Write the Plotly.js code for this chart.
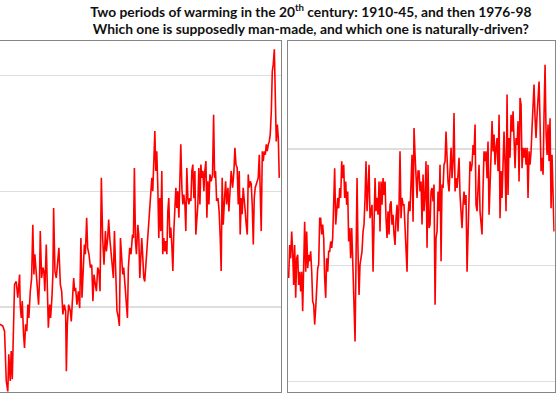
<!DOCTYPE html>
<html>
<head>
<meta charset="utf-8">
<script src="https://cdn.plot.ly/plotly-3.0.1.min.js"></script>
<style>html,body{margin:0;padding:0;background:#fff;}#chart{width:558px;height:393px;}</style>
</head>
<body>
<div id="chart"></div>
<script>
// Monthly temperature anomaly (°C), period 1976-98 (left panel)
const leftYears = [
1976.00,1976.23,1976.38,1976.46,1976.52,1976.65,1976.73,1976.85,1976.93,1977.02,1977.13,1977.21,1977.35,1977.48,1977.63,1977.68,1977.77,1977.85,1977.96,1978.04,
1978.13,1978.23,1978.32,1978.40,1978.52,1978.63,1978.73,1978.82,1978.90,1979.02,1979.10,1979.21,1979.29,1979.35,1979.46,1979.57,1979.65,1979.73,1979.85,1979.93,
1980.02,1980.13,1980.21,1980.32,1980.40,1980.46,1980.57,1980.68,1980.79,1980.90,1981.02,1981.13,1981.23,1981.35,1981.46,1981.52,1981.60,1981.71,1981.85,
1981.93,1982.02,1982.13,1982.21,1982.29,1982.40,1982.52,1982.63,1982.73,1982.82,1982.90,1983.02,1983.10,1983.21,1983.29,1983.40,1983.52,1983.63,1983.73,1983.82,
1983.93,1984.02,1984.13,1984.23,1984.32,1984.43,1984.54,1984.65,1984.77,1984.85,1984.96,1985.04,1985.13,1985.23,1985.35,1985.43,1985.52,1985.63,1985.73,1985.85,
1985.93,1986.02,1986.13,1986.21,1986.29,1986.40,1986.52,1986.60,1986.68,1986.79,1986.90,1987.02,1987.10,1987.18,1987.27,1987.35,1987.46,1987.54,1987.63,
1987.79,1987.88,1987.96,1988.04,1988.13,1988.23,1988.32,1988.43,1988.54,1988.63,1988.71,1988.79,1988.88,1988.96,1989.04,1989.13,1989.21,1989.29,1989.38,1989.46,
1989.54,1989.63,1989.71,1989.79,1989.88,1989.96,1990.04,1990.13,1990.21,1990.29,1990.38,1990.46,1990.54,1990.63,1990.71,1990.79,1990.88,1990.96,1991.04,1991.13,
1991.21,1991.29,1991.38,1991.46,1991.54,1991.63,1991.71,1991.79,1991.88,1991.96,1992.04,1992.13,1992.21,1992.29,1992.38,1992.46,1992.54,1992.63,1992.71,1992.79,
1992.88,1992.96,1993.04,1993.13,1993.21,1993.29,1993.38,1993.46,
1993.57,1993.68,1993.77,1993.85,1993.93,1994.02,1994.13,1994.23,1994.32,1994.40,1994.48,1994.57,1994.68,1994.77,1994.85,1994.96,1995.04,1995.15,1995.23,1995.35,
1995.46,1995.54,1995.63,1995.73,1995.82,1995.90,1995.98,1996.07,1996.15,1996.23,1996.32,1996.40,1996.48,1996.57,1996.65,1996.73,1996.82,1996.90,1996.98,1997.07,
1997.15,1997.23,1997.32,1997.40,1997.48,1997.57,1997.65,1997.73,1997.82,1997.90,1997.98,1998.07,1998.15,1998.23,1998.32,1998.40,1998.48,1998.57,1998.65,1998.73,
1998.82,1998.90,1998.98,1999.07,1999.15,1999.23
];
const leftAnom = [
-0.030,-0.033,-0.042,-0.097,-0.128,-0.146,-0.082,-0.128,-0.076,-0.125,-0.053,0.039,0.044,0.016,0.056,0.004,-0.019,0.010,-0.048,-0.071,
-0.030,-0.042,0.004,-0.019,0.027,0.050,0.142,0.056,0.091,0.050,0.027,0.004,0.050,0.131,0.050,0.068,0.062,0.027,0.108,0.016,
-0.036,0.004,-0.019,0.016,0.056,0.171,0.062,0.050,0.079,0.102,0.039,0.027,-0.013,0.004,-0.007,-0.111,-0.030,0.004,-0.007,
-0.025,0.010,0.050,0.027,0.033,0.004,0.027,-0.002,0.119,0.016,0.050,0.108,0.091,0.154,0.102,0.091,0.068,0.073,0.010,0.056,
0.039,0.027,0.068,0.062,0.027,0.223,0.119,0.073,0.131,0.096,0.119,0.151,0.119,0.096,0.068,0.050,0.131,0.050,-0.007,-0.019,
-0.033,0.119,0.091,0.056,0.068,0.039,0.010,-0.019,0.068,0.102,0.091,0.125,0.119,0.240,0.114,0.091,0.142,0.125,0.050,
0.119,0.085,0.050,0.044,0.073,0.108,0.137,0.160,0.200,0.223,0.200,0.252,0.304,0.235,0.269,0.206,0.119,0.188,0.131,0.235,
0.091,0.119,0.096,0.114,0.091,0.165,0.188,0.119,0.137,0.108,0.062,0.131,0.165,0.206,0.171,0.200,0.154,0.246,0.281,0.206,
0.177,0.194,0.177,0.131,0.240,0.188,0.177,0.188,0.183,0.235,0.246,0.188,0.235,0.125,0.148,0.177,0.240,0.177,0.246,0.223,
0.235,0.200,0.235,0.252,0.154,0.217,0.177,0.229,
0.217,0.229,0.332,0.223,0.235,0.183,0.188,0.165,0.119,0.062,0.223,0.142,0.188,0.217,0.177,0.206,0.165,0.217,0.235,0.206,
0.235,0.275,0.246,0.240,0.177,0.235,0.125,0.188,0.160,0.206,0.188,0.165,0.142,0.125,0.229,0.206,0.217,0.212,0.177,0.108,
0.188,0.206,0.212,0.217,0.223,0.263,0.212,0.131,0.269,0.252,0.269,0.263,0.281,0.269,0.281,0.286,0.298,0.338,0.407,0.419,
0.445,0.361,0.286,0.315,0.292,0.223
];

// Monthly temperature anomaly (°C), period 1910-45 (right panel)
const rightYears = [
1910.09,1910.23,1910.36,1910.50,1910.63,1910.77,1910.90,1911.04,1911.17,1911.31,1911.44,1911.58,1911.71,1911.85,1911.98,1912.12,1912.25,1912.39,1912.52,1912.66,
1912.79,1912.93,1913.06,1913.20,1913.33,1913.47,1913.60,1913.74,1913.87,1914.01,1914.14,1914.28,1914.41,1914.55,1914.68,1914.82,1914.95,1915.09,1915.22,1915.36,
1915.49,1915.63,1915.76,1915.90,1916.03,1916.17,1916.30,1916.44,1916.57,1916.71,1916.84,1916.98,1917.11,1917.25,1917.38,1917.52,1917.65,1917.79,1917.92,1918.06,
1918.19,1918.33,1918.46,1918.60,
1918.78,1918.91,1919.05,1919.18,1919.32,1919.45,1919.59,1919.72,1919.86,1919.99,1920.13,1920.26,1920.40,1920.53,1920.67,1920.80,1920.94,1921.07,1921.21,1921.34,
1921.48,1921.61,1921.75,1921.88,1922.02,1922.15,1922.29,1922.42,1922.56,1922.69,1922.83,1922.96,1923.10,1923.23,1923.37,1923.50,1923.64,1923.77,1923.91,1924.04,
1924.18,1924.31,1924.45,1924.58,1924.72,1924.85,1924.99,1925.12,1925.26,1925.39,1925.53,1925.66,1925.80,1925.93,1926.07,1926.20,1926.34,1926.47,1926.61,1926.74,
1926.88,1927.01,1927.15,1927.28,1927.42,1927.55,1927.69,1927.82,
1927.96,1928.09,1928.23,1928.36,1928.50,1928.63,1928.77,1928.90,1929.04,1929.17,1929.31,1929.44,1929.58,1929.71,1929.85,1929.98,1930.12,1930.25,1930.39,1930.52,
1930.66,1930.79,1930.93,1931.06,1931.20,1931.33,1931.47,1931.60,1931.74,1931.87,1932.01,1932.14,1932.28,1932.41,1932.55,1932.68,1932.82,1932.95,1933.09,1933.22,
1933.36,1933.49,1933.63,1933.76,1933.90,1934.03,1934.17,1934.30,1934.44,1934.57,1934.71,1934.84,1934.98,1935.11,1935.25,1935.38,1935.52,1935.65,1935.79,1935.92,
1936.06,1936.19,1936.33,1936.46,1936.60,1936.73,1936.87,1937.00,
1937.14,1937.27,1937.41,1937.54,1937.68,1937.81,1937.95,1938.08,1938.22,1938.35,1938.49,1938.62,1938.76,1938.89,1939.03,1939.16,1939.30,1939.43,1939.57,1939.70,
1939.84,1939.97,1940.11,1940.24,1940.38,1940.51,1940.65,1940.78,1940.92,1941.05,1941.19,1941.32,1941.46,1941.59,1941.73,1941.86,1942.00,1942.13,1942.27,1942.40,
1942.54,1942.67,1942.81,1942.94,1943.08,1943.21,1943.35,1943.48,1943.62,1943.75,1943.89,1944.02,1944.16,1944.29,1944.43,1944.56,1944.70,1944.83,1944.97,1945.10,
1945.24,1945.37,1945.51,1945.64,1945.78,1945.91
];
const rightAnom = [
-0.422,-0.365,-0.388,-0.342,-0.376,-0.434,-0.365,-0.456,-0.388,-0.382,-0.434,-0.411,-0.445,-0.411,-0.479,-0.382,-0.325,-0.411,-0.342,-0.405,
-0.382,-0.393,-0.376,-0.411,-0.462,-0.468,-0.502,-0.474,-0.422,-0.405,-0.399,-0.319,-0.319,-0.347,-0.330,-0.353,-0.422,-0.456,-0.388,-0.411,
-0.376,-0.376,-0.359,-0.370,-0.353,-0.302,-0.233,-0.330,-0.307,-0.284,-0.302,-0.267,-0.284,-0.221,-0.250,-0.227,-0.284,-0.256,-0.296,-0.273,
-0.359,-0.336,-0.388,-0.336,
-0.411,-0.479,-0.531,-0.393,-0.250,-0.376,-0.451,-0.399,-0.388,-0.376,-0.342,-0.330,-0.284,-0.221,-0.307,-0.267,-0.227,-0.319,-0.307,-0.296,
-0.411,-0.296,-0.250,-0.307,-0.284,-0.313,-0.256,-0.342,-0.256,-0.296,-0.250,-0.279,-0.256,-0.319,-0.353,-0.307,-0.347,-0.296,-0.290,-0.330,
-0.313,-0.347,-0.365,-0.319,-0.296,-0.342,-0.296,-0.204,-0.319,-0.284,-0.296,-0.296,-0.330,-0.365,-0.411,-0.313,-0.290,-0.307,-0.250,-0.210,
-0.325,-0.164,-0.210,-0.238,-0.284,-0.238,-0.238,-0.273,
-0.256,-0.330,-0.244,-0.307,-0.279,-0.221,-0.370,-0.227,-0.336,-0.330,-0.273,-0.267,-0.290,-0.261,-0.468,-0.353,-0.342,-0.273,-0.307,-0.227,
-0.393,-0.261,-0.267,-0.227,-0.221,-0.170,-0.227,-0.256,-0.273,-0.233,-0.198,-0.250,-0.221,-0.138,-0.273,-0.250,-0.267,-0.244,-0.215,-0.279,
-0.307,-0.336,-0.296,-0.273,-0.296,-0.279,-0.411,-0.353,-0.273,-0.221,-0.238,-0.227,-0.193,-0.210,-0.158,-0.296,-0.307,-0.256,-0.227,-0.307,
-0.325,-0.347,-0.267,-0.204,-0.221,-0.204,-0.250,-0.187,
-0.313,-0.238,-0.210,-0.152,-0.204,-0.175,-0.227,-0.198,-0.181,-0.238,-0.141,-0.319,-0.238,-0.284,-0.210,-0.170,-0.227,-0.307,-0.106,-0.279,
-0.181,-0.215,-0.141,-0.170,-0.135,-0.193,-0.233,-0.181,-0.193,-0.152,-0.256,-0.112,-0.124,-0.233,-0.198,-0.215,-0.198,-0.227,-0.198,-0.284,
-0.204,-0.227,-0.204,-0.164,-0.106,-0.089,-0.147,-0.181,-0.141,-0.112,-0.084,-0.152,-0.238,-0.215,-0.244,-0.141,-0.055,-0.170,-0.210,-0.158,
-0.221,-0.147,-0.302,-0.210,-0.284,-0.342
];

const titleLine1 = 'Two periods of warming in the 20<sup>th</sup> century: 1910-45, and then 1976-98';
const titleLine2 = 'Which one is supposedly man-made, and which one is naturally-driven?';

const lineStyle = {color: '#ff0000', width: 1.6};
const traces = [
  {x: leftYears, y: leftAnom, type: 'scatter', mode: 'lines', line: lineStyle, xaxis: 'x', yaxis: 'y', hoverinfo: 'x+y'},
  {x: rightYears, y: rightAnom, type: 'scatter', mode: 'lines', line: lineStyle, xaxis: 'x2', yaxis: 'y2', hoverinfo: 'x+y'}
];

const frame = {showline: true, mirror: true, linecolor: '#868686', linewidth: 1.2, ticks: '', showticklabels: false, zeroline: false};
const yDomain = [1 - 392/393, 1 - 40.7/393];

const layout = {
  width: 558, height: 393,
  margin: {l: 0, r: 0, t: 0, b: 0, pad: 0},
  paper_bgcolor: '#ffffff', plot_bgcolor: '#ffffff',
  showlegend: false,
  font: {family: 'Lato, "Open Sans", sans-serif', color: '#1a1a1a'},
  title: {
    text: titleLine1 + '<br>' + titleLine2,
    font: {family: 'Lato, sans-serif', size: 13.8, color: '#111111', weight: 'bold'},
    x: 0.557, xanchor: 'center', xref: 'paper',
    y: 0.958, yanchor: 'top', yref: 'container'
  },
  xaxis: Object.assign({}, frame, {domain: [0, 280.7/558], range: [1976, 1999.35], showgrid: false}),
  yaxis: Object.assign({}, frame, {domain: yDomain, range: [-0.147, 0.460], dtick: 0.2, tick0: 0, showgrid: true, gridcolor: '#dedede', gridwidth: 1.2}),
  xaxis2: Object.assign({}, frame, {domain: [288/558, 554.7/558], range: [1910, 1946], showgrid: false, anchor: 'y2'}),
  yaxis2: Object.assign({}, frame, {domain: yDomain, range: [-0.618, -0.0136], dtick: 0.2, tick0: 0, showgrid: true, gridcolor: '#dedede', gridwidth: 1.2, anchor: 'x2'})
};

Plotly.newPlot('chart', traces, layout, {displayModeBar: false, staticPlot: true});
</script>
</body>
</html>
